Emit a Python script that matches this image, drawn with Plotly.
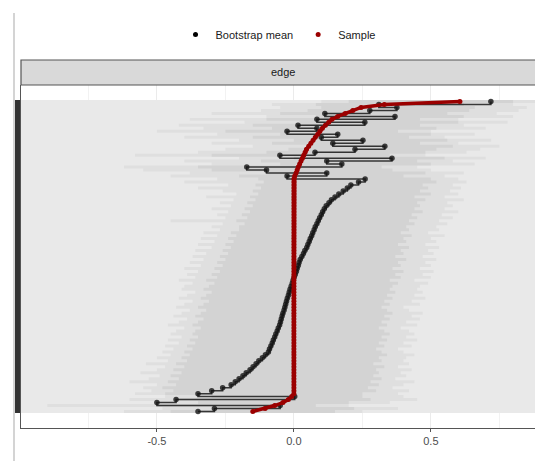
import plotly.graph_objects as go

# ---------------- data (edges ordered bottom -> top, sorted by sample value) -------------
sample_neg = [-0.15, -0.105, -0.07, -0.04, -0.02, -0.008]
sample_zero = [0.0] * 73
sample_pos = [0.003, 0.008, 0.012, 0.016, 0.021, 0.026, 0.031, 0.036, 0.041, 0.046,
              0.054, 0.062, 0.07, 0.078, 0.087, 0.095, 0.104, 0.115, 0.127, 0.139,
              0.16, 0.187, 0.215, 0.245, 0.33, 0.606]

mean_neg = [-0.35, -0.29, -0.05, -0.5, -0.43, 0.003]
mean_zero = [-0.35, -0.3, -0.26, -0.229, -0.214, -0.2, -0.186, -0.174, -0.16, -0.149,
             -0.138, -0.128, -0.115, -0.104, -0.093, -0.089, -0.084, -0.079, -0.075, -0.07,
             -0.066, -0.061, -0.057, -0.052, -0.049, -0.046, -0.043, -0.04, -0.036, -0.033,
             -0.03, -0.027, -0.024, -0.02, -0.017, -0.014, -0.01, -0.006, -0.003, 0.001,
             0.005, 0.009, 0.012, 0.016, 0.019, 0.023, 0.029, 0.035, 0.04, 0.047,
             0.051, 0.056, 0.06, 0.065, 0.069, 0.074, 0.078, 0.084, 0.089, 0.094,
             0.1, 0.105, 0.111, 0.118, 0.128, 0.137, 0.15, 0.164, 0.18, 0.195,
             0.208, 0.236, 0.26]
mean_pos = [-0.025, 0.12, -0.10, -0.172, 0.175, 0.12, 0.358, -0.051, 0.077, 0.223,
            0.332, 0.142, 0.252, 0.10, 0.16, -0.025, 0.084, 0.015, 0.259, 0.084,
            0.369, 0.113, 0.277, 0.376, 0.31, 0.719]

# inner (darker) bootstrap interval
inner_lower = [-0.45, -0.3, -0.5, -0.35, -0.42, -0.3,
               -0.47, -0.44, -0.48, -0.43, -0.46, -0.42, -0.45, -0.41, -0.44, -0.4, -0.43, -0.39,
               -0.41, -0.38, -0.4, -0.37, -0.39, -0.36, -0.38, -0.35, -0.37, -0.36, -0.34, -0.37,
               -0.35, -0.33, -0.36, -0.34, -0.32, -0.35, -0.33, -0.31, -0.34, -0.32, -0.3, -0.33,
               -0.31, -0.29, -0.32, -0.28, -0.3, -0.27, -0.29, -0.26, -0.28, -0.25, -0.27, -0.24,
               -0.26, -0.23, -0.25, -0.22, -0.24, -0.21, -0.23, -0.2,
               -0.2, -0.18, -0.21, -0.17, -0.19, -0.16, -0.18, -0.15, -0.17, -0.14, -0.16, -0.13,
               -0.15, -0.12, -0.14, -0.11, -0.13,
               -0.2, -0.1, -0.3, -0.35, -0.05, -0.12, 0.0, -0.3, -0.1, -0.02, 0.05, -0.08, 0.0,
               -0.15, -0.05, -0.25, -0.08, -0.15, 0.02, -0.1, 0.08, -0.05, 0.05, 0.1, 0.08, 0.2]
inner_upper = [0.15, 0.22, 0.08, 0.2, 0.28, 0.25,
               0.25, 0.3, 0.27, 0.31, 0.28, 0.32, 0.29, 0.31, 0.3, 0.33, 0.29, 0.32,
               0.31, 0.34, 0.32, 0.3, 0.33, 0.31, 0.34, 0.32, 0.35, 0.33, 0.31, 0.34,
               0.32, 0.35, 0.33, 0.36, 0.34, 0.32, 0.35, 0.33, 0.36, 0.34, 0.37, 0.35,
               0.36, 0.38, 0.35, 0.39, 0.37, 0.4, 0.36, 0.39, 0.38, 0.41, 0.37, 0.4,
               0.39, 0.42, 0.38, 0.41, 0.4, 0.43, 0.39, 0.42,
               0.41, 0.44, 0.42, 0.45, 0.43, 0.47, 0.44, 0.46, 0.45, 0.48, 0.44, 0.5,
               0.46, 0.49, 0.47, 0.52, 0.5,
               0.4, 0.48, 0.36, 0.32, 0.5, 0.45, 0.55, 0.35, 0.48, 0.52, 0.58, 0.46, 0.56,
               0.42, 0.5, 0.38, 0.52, 0.46, 0.6, 0.46, 0.62, 0.56, 0.64, 0.66, 0.62, 0.8]
# outer (lighter) interval
outer_lower = [-0.62, -0.48, -0.9, -0.5, -0.6, -0.47,
               -0.58, -0.52, -0.55, -0.5, -0.6, -0.53, -0.49, -0.56, -0.5, -0.47, -0.54, -0.46,
               -0.5, -0.45, -0.48, -0.44, -0.47, -0.42, -0.46, -0.41, -0.45, -0.43, -0.4, -0.46,
               -0.42, -0.39, -0.44, -0.41, -0.38, -0.43, -0.4, -0.37, -0.42, -0.39, -0.36, -0.41,
               -0.4, -0.37, -0.42, -0.36, -0.39, -0.35, -0.4, -0.34, -0.38, -0.33, -0.37, -0.32,
               -0.36, -0.3, -0.35, -0.29, -0.34, -0.28, -0.33, -0.27,
               -0.3, -0.26, -0.45, -0.25, -0.28, -0.24, -0.3, -0.23, -0.27, -0.22, -0.32, -0.21,
               -0.26, -0.35, -0.24, -0.4, -0.28,
               -0.45, -0.38, -0.55, -0.62, -0.3, -0.4, -0.2, -0.58, -0.35, -0.25, -0.15, -0.3, -0.2,
               -0.4, -0.28, -0.5, -0.33, -0.42, -0.18, -0.38, -0.1, -0.3, -0.12, -0.05, -0.08, 0.1]
outer_upper = [0.25, 0.38, 0.2, 0.35, 0.45, 0.4,
               0.38, 0.42, 0.36, 0.4, 0.44, 0.37, 0.41, 0.39, 0.43, 0.38, 0.42, 0.4,
               0.41, 0.44, 0.4, 0.38, 0.43, 0.4, 0.45, 0.41, 0.44, 0.42, 0.39, 0.45,
               0.41, 0.46, 0.43, 0.47, 0.42, 0.4, 0.46, 0.43, 0.48, 0.44, 0.47, 0.45,
               0.46, 0.49, 0.44, 0.5, 0.47, 0.51, 0.46, 0.5, 0.48, 0.52, 0.47, 0.51,
               0.49, 0.53, 0.48, 0.52, 0.5, 0.55, 0.49, 0.53,
               0.52, 0.56, 0.53, 0.58, 0.54, 0.6, 0.55, 0.58, 0.56, 0.62, 0.55, 0.6,
               0.57, 0.61, 0.58, 0.63, 0.6,
               0.55, 0.62, 0.5, 0.45, 0.66, 0.58, 0.7, 0.48, 0.63, 0.68, 0.75, 0.6, 0.72,
               0.55, 0.66, 0.5, 0.7, 0.62, 0.78, 0.6, 0.8, 0.74, 0.82, 0.85, 0.8, 0.9]

bg_limits = [-1.5, 1.5]
x_ticks = [-0.5, 0.0, 0.5]
x_ticklabels = ["-0.5", "0.0", "0.5"]
facet_label = "edge"

sample = sample_neg + sample_zero + sample_pos
boot_mean = mean_neg + mean_zero + mean_pos
N = len(sample)
edges = list(range(N))
for arr in (boot_mean, inner_lower, inner_upper, outer_lower, outer_upper):
    assert len(arr) == N, len(arr)

# ---------------- traces ----------------
fig = go.Figure()

fig.add_trace(go.Scatter(
    x=[bg_limits[0], bg_limits[0], bg_limits[1], bg_limits[1]],
    y=[-0.5, N - 0.5, N - 0.5, -0.5],
    fill="toself", fillcolor="#e9e9e9", line=dict(width=0), mode="lines",
    hoverinfo="skip", showlegend=False))


def add_band(lower, upper, color):
    bx, by = [], []
    for i in edges:
        bx += [lower[i], lower[i]]
        by += [i - 0.5, i + 0.5]
    for i in reversed(edges):
        bx += [upper[i], upper[i]]
        by += [i + 0.5, i - 0.5]
    fig.add_trace(go.Scatter(x=bx, y=by, fill="toself", fillcolor=color,
                             line=dict(width=0), mode="lines", hoverinfo="skip",
                             showlegend=False))


add_band(outer_lower, outer_upper, "#dfdfdf")
add_band(inner_lower, inner_upper, "#d3d3d3")

fig.add_trace(go.Scatter(x=boot_mean, y=edges, mode="lines+markers",
                         line=dict(color="rgba(0,0,0,0.75)", width=1.5, shape="hv"),
                         marker=dict(color="rgba(20,20,20,0.8)", size=5.5),
                         showlegend=False))
fig.add_trace(go.Scatter(x=sample, y=edges, mode="lines+markers",
                         line=dict(color="#9b0000", width=3.5),
                         marker=dict(color="#9b0000", size=5),
                         showlegend=False))

fig.add_trace(go.Scatter(x=[None], y=[None], mode="markers", name="Bootstrap mean",
                         marker=dict(color="black", size=5)))
fig.add_trace(go.Scatter(x=[None], y=[None], mode="markers", name="Sample",
                         marker=dict(color="#9b0000", size=5)))

H = 461
top, bottom = 85, 33
ph = H - top - bottom
strip_h = 25
axis_bottom_px = H - bottom


def py(px):
    return (axis_bottom_px - px) / ph


fig.update_layout(
    width=535, height=H,
    margin=dict(l=21, r=0, t=top, b=bottom, pad=0, autoexpand=False),
    paper_bgcolor="white", plot_bgcolor="white",
    font=dict(family="Liberation Sans, Arial, sans-serif", color="#1a1a1a", size=11),
    legend=dict(orientation="h", x=0.5, xanchor="center", y=py(20),
                yanchor="top", font=dict(size=11, color="#1a1a1a"), itemwidth=30,
                bgcolor="rgba(0,0,0,0)"),
    xaxis=dict(range=[-0.996, 0.88], tickvals=x_ticks, ticktext=x_ticklabels,
               showgrid=True, gridcolor="#ebebeb", gridwidth=1,
               minor=dict(dtick=0.25, tick0=0.25, showgrid=True, gridcolor="#f2f2f2", gridwidth=1),
               zeroline=False, showline=True, linecolor="#555555", linewidth=1.2,
               ticks="outside", ticklen=3, tickcolor="#555555",
               tickfont=dict(size=11, color="#4d4d4d")),
    yaxis=dict(range=[-5.53, N - 0.5 + 5.03], tickvals=edges, ticktext=[""] * N,
               showgrid=False, zeroline=False, showline=True, linecolor="#555555", linewidth=1.2,
               ticks="outside", ticklen=5, tickwidth=3, tickcolor="#333333"),
    shapes=[
        dict(type="rect", xref="paper", yref="paper", x0=0, x1=1.02, y0=1,
             y1=1 + strip_h / ph, fillcolor="#d9d9d9", line=dict(color="#555555", width=1.2),
             layer="above"),
        dict(type="line", xref="paper", yref="paper", x0=-7 / 514, x1=-7 / 514,
             y0=py(461), y1=py(13), line=dict(color="#d4d4d4", width=2)),
    ],
    annotations=[dict(text=facet_label, xref="paper", yref="paper", x=(283 - 21) / 514,
                      y=py(72), showarrow=False, xanchor="center", yanchor="middle",
                      font=dict(size=11, color="#1a1a1a"))],
)

fig.write_html("out.html")
